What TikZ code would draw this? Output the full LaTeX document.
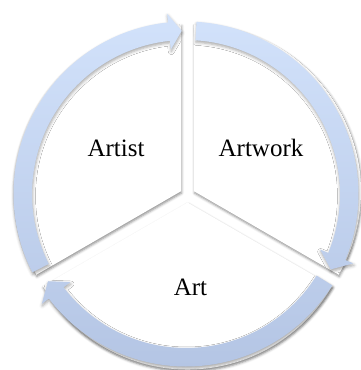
\documentclass[tikz,border=0pt]{standalone}
\usepackage{fontspec}
\setmainfont{Liberation Serif}
\usetikzlibrary{shadows.blur}
\definecolor{bandtop}{RGB}{210,226,251}
\definecolor{bandbot}{RGB}{180,197,228}
\begin{document}
\begin{tikzpicture}[x=1pt,y=1pt,
  sector/.style={fill=white, blur shadow={shadow xshift=0.6pt, shadow yshift=-1.8pt, shadow blur radius=2.5pt, shadow opacity=45}},
  band/.style={top color=bandtop, bottom color=bandbot, blur shadow={shadow xshift=0.5pt, shadow yshift=-2pt, shadow blur radius=3pt, shadow opacity=35}},
  lbl/.style={font=\fontsize{25}{30}\selectfont, anchor=base, inner sep=0pt}]
\useasboundingbox (0,0) rectangle (361,-370);
\begin{scope}[shift={(187.5,-195)}]
  \foreach \m in {30,150,270} {
    \path[sector] (\m:7.5) -- ++(\m+60:167) arc[start angle=\m+60, end angle=\m-60, radius=167] -- cycle;
  }
\end{scope}
\begin{scope}[shift={(186,-194)}]
  \path[band]
    (207:172.5) arc[start angle=207, end angle=96, radius=172.5] -- (96:181.25) -- (91.5:163.25) -- (96:145.25) -- (96:154) arc[start angle=96, end angle=207, radius=154] -- cycle
    (86.5:172.5) arc[start angle=86.5, end angle=-22.5, radius=172.5] -- (-22.5:181.25) -- (-27.5:163.25) -- (-22.5:145.25) -- (-22.5:154) arc[start angle=-22.5, end angle=86.5, radius=154] -- cycle
    (-32:172.5) arc[start angle=-32, end angle=-142.7, radius=172.5] -- (-142.7:181.25) -- (-147.7:163.25) -- (-142.7:145.25) -- (-142.7:154) arc[start angle=-142.7, end angle=-32, radius=154] -- cycle;
\end{scope}
\node[lbl] (artist) at (116,-156) {Artist};
\node[lbl] (artwork) at (261,-156) {Artwork};
\node[lbl] (art) at (190.5,-295) {Art};
\end{tikzpicture}
\end{document}
